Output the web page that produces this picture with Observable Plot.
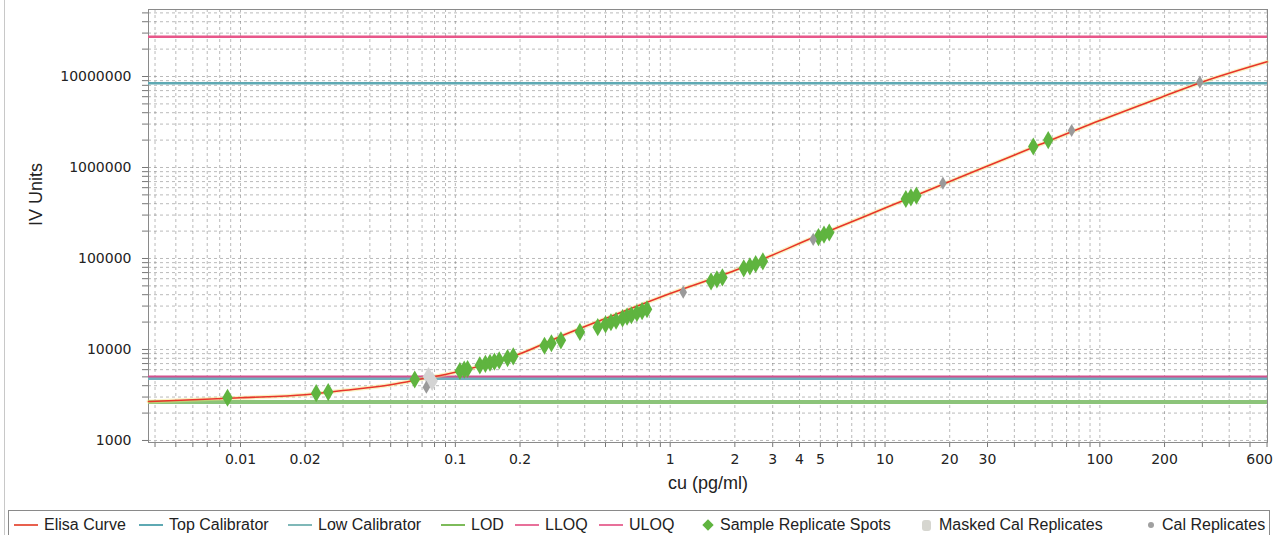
<!DOCTYPE html>
<html>
<head>
<meta charset="utf-8">
<script src="https://cdn.jsdelivr.net/npm/d3@7"></script>
<script src="https://cdn.jsdelivr.net/npm/@observablehq/plot@0.6"></script>
<style>
  html, body { margin: 0; padding: 0; background: #fff; }
  #wrap { position: relative; width: 1274px; height: 535px; overflow: hidden; }
  #edge { position: absolute; left: 4px; top: 0; width: 1px; height: 535px; background: #c8c8c8; }
  #chart { position: absolute; left: 0; top: 0; }
  #legend { position: absolute; left: 8px; top: 510px; width: 1262px; height: 40px;
            border: 1px solid #8a8a8a; box-sizing: border-box; background: #fff;
            font-family: "Liberation Sans", Arial, sans-serif; font-size: 16px; color: #222; }
  .item { position: absolute; top: 5px; height: 18px; display: flex; align-items: center; white-space: nowrap; }
  .sw-line { display: inline-block; width: 24px; height: 2px; margin-right: 6px; }
  .sw-dot { display: inline-block; margin-right: 8px; }
</style>
</head>
<body>
<div id="wrap">
  <div id="edge"></div>
  <div id="chart"></div>
  <div id="legend"></div>
</div>
<script>
// ---- data ----
const xTickValues = [0.01, 0.02, 0.1, 0.2, 1, 2, 3, 4, 5, 10, 20, 30, 100, 200, 600];
const yTickValues = [1000, 10000, 100000, 1000000, 10000000];

// Elisa curve
const curveX = [0.00373, 0.006, 0.01, 0.02, 0.03, 0.05, 0.07, 0.1, 0.15, 0.2, 0.3, 0.5, 1, 2, 5, 10, 20, 50, 100, 200, 300, 600];
const curveY = [2680, 2800, 2950, 3180, 3540, 4090, 4760, 5630, 7240, 8970, 13550, 21900, 41200, 73800, 183000, 358000, 700000, 1700000, 3280000, 6100000, 8700000, 14500000];

// Sample replicate spots (green)
const sampleX = [0.0087, 0.0225, 0.0256, 0.0647, 0.105, 0.110, 0.114, 0.130, 0.138, 0.145, 0.152, 0.160, 0.175, 0.186,
  0.26, 0.28, 0.31, 0.38, 0.46, 0.50, 0.53, 0.56, 0.60, 0.63, 0.66, 0.70, 0.74, 0.78,
  1.55, 1.65, 1.75, 2.2, 2.35, 2.5, 2.7, 4.9, 5.2, 5.5, 12.5, 13.2, 14.0, 49, 57.5];
const sampleY = [2950, 3310, 3400, 4680, 5800, 6000, 6100, 6700, 6950, 7150, 7350, 7600, 8050, 8400,
  11000, 11700, 12600, 15600, 17600, 18900, 19900, 20700, 22000, 23000, 23800, 25200, 26400, 27700,
  56000, 59000, 62000, 78000, 82000, 87000, 93000, 172000, 183000, 193000, 450000, 470000, 490000, 1700000, 2000000];

// Cal replicates (grey)
const calX = [0.0733, 1.15, 4.63, 18.6, 73.9, 292];
const calY = [3850, 42600, 162000, 673000, 2550000, 8670000];

// Masked cal replicates (light grey)
const maskedX = [0.075, 0.078];
const maskedY = [5000, 4500];

// Horizontal reference lines
const refNames  = ["ULOQ", "Top Calibrator", "LLOQ", "Low Calibrator", "LOD"];
const refValues = [27300000, 8450000, 5000, 4780, 2640];
const refColors = ["#e8578a", "#5ea9b3", "#d2518d", "#70aebd", "#8cc47a"];

const legendNames = ["Elisa Curve", "Top Calibrator", "Low Calibrator", "LOD", "LLOQ", "ULOQ",
  "Sample Replicate Spots", "Masked Cal Replicates", "Cal Replicates"];

// ---- build tables ----
const curve = curveX.map((x, i) => ({x, y: curveY[i]}));
const samples = sampleX.map((x, i) => ({x, y: sampleY[i]}));
const cals = calX.map((x, i) => ({x, y: calY[i]}));
const masked = maskedX.map((x, i) => ({x, y: maskedY[i]}));
const refs = refNames.map((name, i) => ({name, y: refValues[i], color: refColors[i]}));

const xDomain = [0.00373, 603];
const yDomain = [950, 5.45e7];
const xGrid = [], yGrid = [];
for (let e = -3; e <= 2; e++) for (let k = 1; k <= 9; k++) {
  const v = +(k * Math.pow(10, e)).toPrecision(6);
  if (v >= xDomain[0] && v <= xDomain[1]) xGrid.push(v);
}
for (let e = 2; e <= 7; e++) for (let k = 1; k <= 9; k++) {
  const v = k * Math.pow(10, e);
  if (v >= yDomain[0] && v <= yDomain[1]) yGrid.push(v);
}
const xTicksInner = xTickValues.slice(0, -1);
const xTicksLast = xTickValues.slice(-1);

const chart = Plot.plot({
  width: 1274,
  height: 505,
  marginLeft: 148,
  marginRight: 7,
  marginTop: 9,
  marginBottom: 63,
  style: {fontFamily: "DejaVu Sans", fontSize: "14px", color: "#222", background: "transparent", overflow: "visible"},
  x: {type: "log", domain: xDomain},
  y: {type: "log", domain: yDomain},
  marks: [
    Plot.gridX(xGrid, {stroke: "#666", strokeOpacity: 0.45, strokeDasharray: "3,3"}),
    Plot.gridY(yGrid, {stroke: "#666", strokeOpacity: 0.45, strokeDasharray: "3,3"}),
    Plot.axisX(xGrid, {tickSize: 5, tickFormat: () => "", stroke: "#777", label: null}),
    Plot.text(xTicksInner, {x: d => d, text: d => String(d), frameAnchor: "bottom", dy: 21,
      fontFamily: "DejaVu Sans", fontSize: 14, fill: "#222"}),
    Plot.text(xTicksLast, {x: d => d, text: d => String(d), frameAnchor: "bottom", dy: 21, dx: 6,
      textAnchor: "end", fontFamily: "DejaVu Sans", fontSize: 14, fill: "#222"}),
    Plot.axisY(yGrid, {tickSize: 6, tickFormat: () => "", stroke: "#777", label: null}),
    Plot.axisY(yTickValues, {tickSize: 0, tickPadding: 17, tickFormat: d => String(d), fill: "#222", label: null}),
    Plot.frame({stroke: "#8a8a8a"}),
    Plot.ruleY(refs, {y: "y", stroke: "color", strokeWidth: d => d.name === "LOD" ? 4 : 2.5}),
    Plot.line(curve, {x: "x", y: "y", stroke: "#f2e27a", strokeWidth: 4, strokeOpacity: 0.45, curve: "monotone-x"}),
    Plot.line(curve, {x: "x", y: "y", stroke: "#e8352a", strokeWidth: 1.6, curve: "monotone-x"}),
    Plot.dot(masked, {x: "x", y: "y", symbol: "diamond", r: 6, fill: "#d4d4d4"}),
    Plot.dot(samples, {x: "x", y: "y", symbol: "diamond", r: 5.5, fill: "#5fb43f"}),
    Plot.dot(cals, {x: "x", y: "y", symbol: "diamond", r: 4, fill: "#9a9a9a"}),
    Plot.text(["IV Units"], {text: d => d, frameAnchor: "left", dx: -112, rotate: -90,
      fontFamily: "Liberation Sans", fontSize: 18, fill: "#222"}),
    Plot.text(["cu (pg/ml)"], {text: d => d, frameAnchor: "bottom", dy: 46,
      fontFamily: "Liberation Sans", fontSize: 18, fill: "#222"})
  ]
});
document.getElementById("chart").appendChild(chart);

// ---- legend ----
const legendLefts = [13, 138, 287, 440, 514, 598, 700, 921, 1147];
const legendSwatch = [
  {type: "line", color: "#e8604e"},
  {type: "line", color: "#5ea9b3"},
  {type: "line", color: "#7fb8b8"},
  {type: "line", color: "#7dbb5a"},
  {type: "line", color: "#e8709a"},
  {type: "line", color: "#e8709a"},
  {type: "diamond", color: "#5fb43f"},
  {type: "square", color: "#d6d6d0"},
  {type: "dot", color: "#a0a0a0"}
];
const legend = document.getElementById("legend");
legendNames.forEach((name, i) => {
  const it = document.createElement("div");
  it.className = "item";
  it.style.left = (legendLefts[i] - 8) + "px";
  const sw = legendSwatch[i];
  const s = document.createElement("span");
  if (sw.type === "line") {
    s.className = "sw-line";
    s.style.background = sw.color;
  } else {
    s.className = "sw-dot";
    s.style.background = sw.color;
    if (sw.type === "diamond") { s.style.width = "8px"; s.style.height = "8px"; s.style.transform = "rotate(45deg)"; s.style.marginLeft = "3px"; }
    if (sw.type === "square") { s.style.width = "9px"; s.style.height = "11px"; s.style.borderRadius = "3px"; }
    if (sw.type === "dot") { s.style.width = "6px"; s.style.height = "6px"; s.style.borderRadius = "3px"; }
  }
  it.appendChild(s);
  const t = document.createElement("span");
  t.textContent = name;
  it.appendChild(t);
  legend.appendChild(it);
});
</script>
</body>
</html>
